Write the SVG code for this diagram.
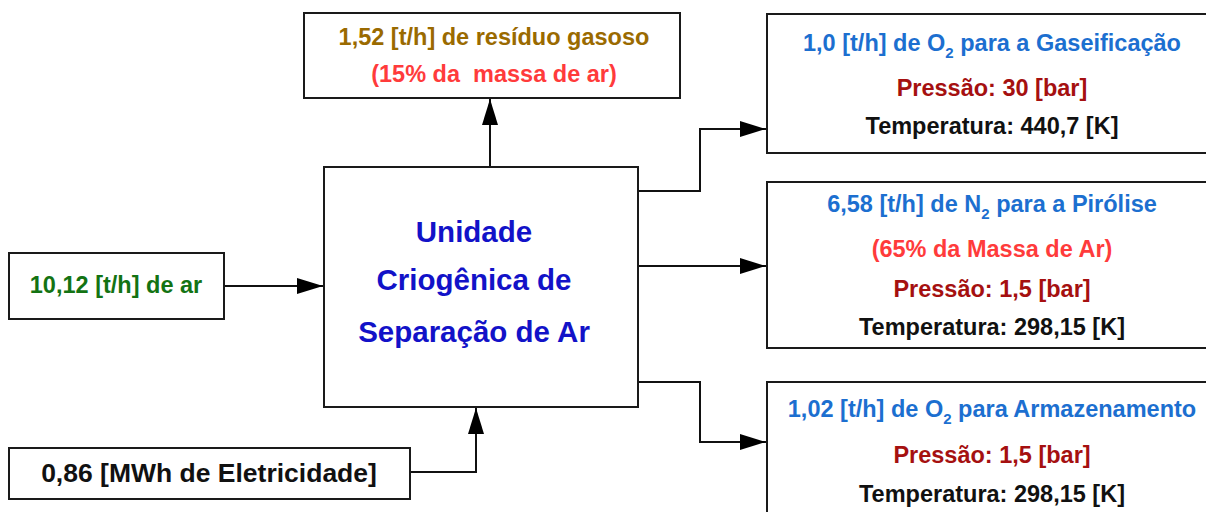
<svg xmlns="http://www.w3.org/2000/svg" width="1206" height="512" viewBox="0 0 1206 512">
<style>
.box{fill:#fff;stroke:#1a1a1a;stroke-width:2}
.t{font-family:"Liberation Sans",Arial,sans-serif;font-weight:bold;text-anchor:middle;font-size:23.5px}
.blue{fill:#1c6fd0}.dred{fill:#a51010}.red{fill:#ff3b3b}.brown{fill:#9a6a00}.green{fill:#137313}.blk{fill:#111}.cblue{fill:#1212c8}
.big{font-size:29.5px}
.sub{font-size:15px}
.c{fill:none;stroke:#111;stroke-width:2}
</style>
<defs>
<marker id="ah" markerUnits="userSpaceOnUse" markerWidth="26" markerHeight="16" refX="26" refY="8" orient="auto"><path d="M0,0 L26,8 L0,16 z" fill="#000"/></marker>
</defs>
<rect width="1206" height="512" fill="#fff"/>
<g id="connectors">
<path class="c" d="M490,167 V99" marker-end="url(#ah)"/>
<path class="c" d="M224,286 H323" marker-end="url(#ah)"/>
<path class="c" d="M410,472 H476 V408" marker-end="url(#ah)"/>
<path class="c" d="M638,191 H700 V129 H766" marker-end="url(#ah)"/>
<path class="c" d="M638,266 H766" marker-end="url(#ah)"/>
<path class="c" d="M638,382 H700 V442 H766" marker-end="url(#ah)"/>
</g>
<g id="residuo">
<rect class="box" x="304" y="13" width="376" height="85"/>
<text class="t brown" x="494" y="45">1,52 [t/h] de resíduo gasoso</text>
<text class="t red" x="494" y="82" xml:space="preserve">(15% da  massa de ar)</text>
</g>
<g id="unidade">
<rect class="box" x="324" y="167" width="314" height="240"/>
<text class="t cblue big" x="474" y="242">Unidade</text>
<text class="t cblue big" x="474" y="290">Criogênica de</text>
<text class="t cblue big" x="474" y="342">Separação de Ar</text>
</g>
<g id="ar">
<rect class="box" x="9" y="253" width="215" height="66"/>
<text class="t green" x="116" y="293">10,12 [t/h] de ar</text>
</g>
<g id="eletricidade">
<rect class="box" x="9" y="448" width="401" height="51"/>
<text class="t blk" x="209" y="482" style="font-size:26.5px">0,86 [MWh de Eletricidade]</text>
</g>
<g id="gaseificacao">
<rect class="box" x="767" y="14" width="450" height="139"/>
<text class="t blue" x="992" y="51">1,0 [t/h] de O<tspan class="sub" dy="7">2</tspan><tspan dy="-7"> para a Gaseificação</tspan></text>
<text class="t dred" x="992" y="96">Pressão: 30 [bar]</text>
<text class="t blk" x="992" y="134">Temperatura: 440,7 [K]</text>
</g>
<g id="pirolise">
<rect class="box" x="767" y="182" width="450" height="166"/>
<text class="t blue" x="992" y="212">6,58 [t/h] de N<tspan class="sub" dy="7">2</tspan><tspan dy="-7"> para a Pirólise</tspan></text>
<text class="t red" x="992" y="257">(65% da Massa de Ar)</text>
<text class="t dred" x="992" y="297">Pressão: 1,5 [bar]</text>
<text class="t blk" x="992" y="335">Temperatura: 298,15 [K]</text>
</g>
<g id="armazenamento">
<rect class="box" x="767" y="382" width="450" height="140"/>
<text class="t blue" x="992" y="417">1,02 [t/h] de O<tspan class="sub" dy="7">2</tspan><tspan dy="-7"> para Armazenamento</tspan></text>
<text class="t dred" x="992" y="463">Pressão: 1,5 [bar]</text>
<text class="t blk" x="992" y="502">Temperatura: 298,15 [K]</text>
</g>
</svg>
